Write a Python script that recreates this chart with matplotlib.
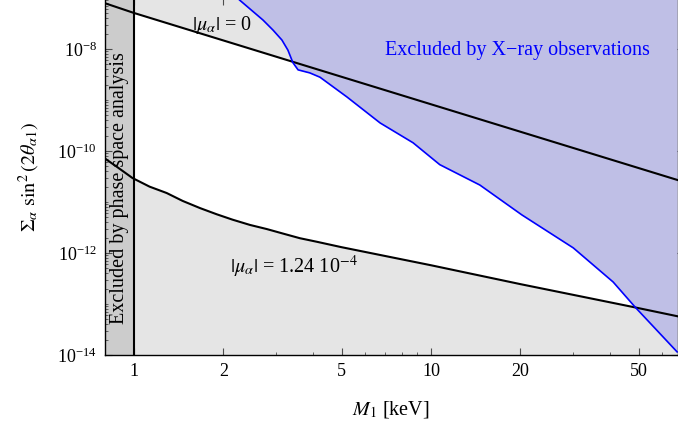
import matplotlib
matplotlib.use("Agg")
import matplotlib.pyplot as plt
from matplotlib.ticker import FixedLocator, NullFormatter, LogFormatterSciNotation

plt.rcParams['font.family'] = ['Liberation Serif', 'DejaVu Serif']
plt.rcParams['mathtext.fontset'] = 'stix'

# |mu_alpha| = 0 line (power law in log-log)
mu0_mass = [0.8, 1.0, 3.5, 67.5]
mu0_mix = [7.9e-8, 5.1e-8, 5.4e-9, 2.7e-11]

# |mu_alpha| = 1.24e-4 curve
mu1_mass = [0.787, 0.877, 0.99, 1.13, 1.29, 1.46, 1.67, 1.90, 2.15, 2.46, 2.80,
            3.18, 3.62, 4.13, 5.0, 10.0, 20.0, 48.0, 67.5]
mu1_mix = [7.6e-11, 4.9e-11, 2.95e-11, 2.0e-11, 1.5e-11, 1.05e-11, 7.6e-12,
           5.75e-12, 4.5e-12, 3.55e-12, 2.95e-12, 2.4e-12, 1.95e-12, 1.66e-12,
           1.3e-12, 5.75e-13, 2.45e-13, 8.7e-14, 5.75e-14]

# X-ray exclusion boundary
xray_mass = [2.27, 2.72, 2.94, 3.15, 3.30, 3.43, 3.57, 3.91, 4.23, 5.21, 6.74, 8.70,
             10.7, 14.6, 20.2, 30.1, 41.0, 48.6, 67.3]
xray_mix = [9.1e-8, 3.7e-8, 2.35e-8, 1.5e-8, 9.5e-9, 5.4e-9, 3.9e-9, 3.4e-9, 2.8e-9,
            1.15e-9, 3.55e-10, 1.45e-10, 5.4e-11, 2.15e-11, 5.6e-12, 1.26e-12,
            2.7e-13, 8.7e-14, 1.15e-14]

phase_space_limit = 1.0
xticks = [1, 2, 5, 10, 20, 50]
xminor = [3, 4, 6, 7, 8, 9, 30, 40, 60]
yticks = [1e-14, 1e-12, 1e-10, 1e-8]
yminor = [m * 10.0 ** e for e in range(-14, -7) for m in range(1, 10)]

gray = '#e5e5e5'
band = '#cccccc'
lavender = '#bfbfe6'

fig = plt.figure(figsize=(6.78, 4.3), dpi=100)
ax = fig.add_axes([105 / 678, 75 / 430, 572.5 / 678, 357 / 430])
ax.set_xscale('log')
ax.set_yscale('log')
ax.set_xlim(0.8, 67.5)
ax.set_ylim(1e-14, 1e-7)

# shaded regions
ax.fill_between(mu0_mass, mu0_mix, 1e-6, color=gray, lw=0, zorder=1)
ax.fill_between(mu1_mass, 1e-16, mu1_mix, color=gray, lw=0, zorder=1)
ax.axvspan(0.8, phase_space_limit, color=band, lw=0, zorder=1.5)
ax.fill_between(xray_mass, xray_mix, 1e-6, color=lavender, lw=0, zorder=2)

# curves
ax.plot(mu0_mass, mu0_mix, color='black', lw=1.5, zorder=3)
ax.plot(mu1_mass, mu1_mix, color='black', lw=1.5, zorder=3)
ax.plot(xray_mass, xray_mix, color='#0000ff', lw=1.2, zorder=3)
ax.axvline(phase_space_limit, color='black', lw=1.5, zorder=3)

# annotations
ax.text(1.57, 2.95e-8, r'$|\mu_\alpha|$ = 0', fontsize=14.5, ha='left', va='center', zorder=4)
ax.text(2.10, 5.4e-13, r'$|\mu_\alpha|$ = 1.24 10$^{-4}$', fontsize=14.5,
        ha='left', va='center', zorder=4)
ax.text(7.0, 9.2e-9, 'Excluded by X\u2212ray observations', color='#0000ff',
        fontsize=14.5, ha='left', va='center', zorder=4)
ax.text(0.897, 1.9e-11, 'Excluded by phase space analysis', rotation=90,
        fontsize=14.5, ha='center', va='center', zorder=4)

# ticks
ax.xaxis.set_major_locator(FixedLocator(xticks))
ax.xaxis.set_minor_locator(FixedLocator(xminor))
ax.set_xticklabels([str(t) for t in xticks])
ax.xaxis.set_minor_formatter(NullFormatter())
ax.yaxis.set_major_locator(FixedLocator(yticks))
ax.yaxis.set_major_formatter(LogFormatterSciNotation())
ax.yaxis.set_minor_locator(FixedLocator(yminor))
ax.yaxis.set_minor_formatter(NullFormatter())
ax.tick_params(which='both', direction='in', top=True, right=True, labelsize=13,
               color='0.3', zorder=5)
ax.tick_params(which='major', length=5, width=0.8, pad=6)
ax.tick_params(which='minor', length=2.5, width=0.6)
ax.tick_params(axis='y', which='minor', right=False)
for sp in ax.spines.values():
    sp.set_linewidth(1.0)
    sp.set_zorder(5)

ax.set_xlabel(r'$M_1$ [keV]', fontsize=14.5)
ax.set_ylabel(r'$\Sigma_\alpha\ \sin^2(2\theta_{\alpha 1})$', fontsize=14.5)
ax.xaxis.set_label_coords(0.5, -0.123)
ax.yaxis.set_label_coords(-0.11, 0.5)

fig.savefig('out.png', dpi=100)
